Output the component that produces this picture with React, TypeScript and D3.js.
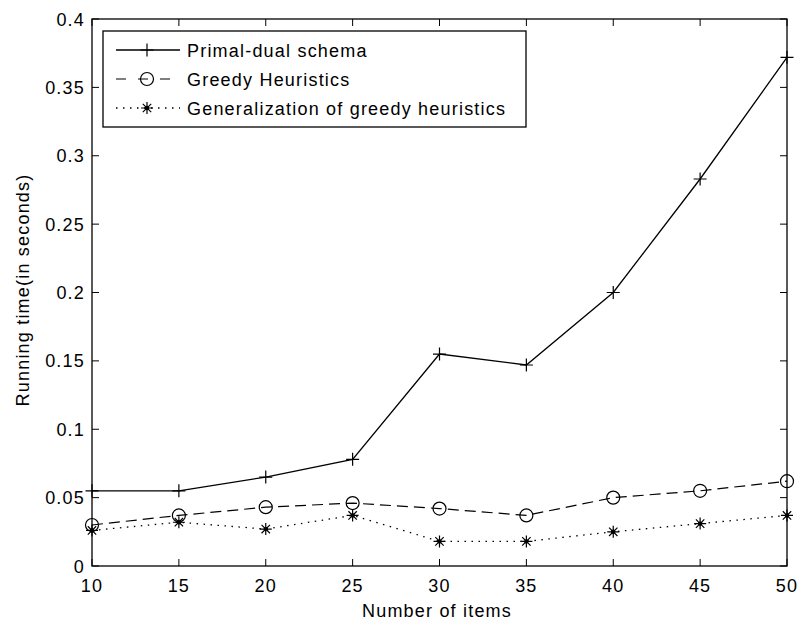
import React from "react";
import * as d3 from "d3";

// Number of items on the x axis
const items = [10, 15, 20, 25, 30, 35, 40, 45, 50];

// Running time in seconds for each method
const primalDual = [0.055, 0.055, 0.065, 0.078, 0.155, 0.147, 0.2, 0.283, 0.372];
const greedy = [0.03, 0.037, 0.043, 0.046, 0.042, 0.037, 0.05, 0.055, 0.062];
const generalization = [0.026, 0.032, 0.027, 0.037, 0.018, 0.018, 0.025, 0.031, 0.037];

const seriesNames = [
  "Primal-dual schema",
  "Greedy Heuristics",
  "Generalization of greedy heuristics",
];

const xTicks = [10, 15, 20, 25, 30, 35, 40, 45, 50];
const yTicks = [0, 0.05, 0.1, 0.15, 0.2, 0.25, 0.3, 0.35, 0.4];

const W = 799;
const H = 625;
const left = 92;
const right = 787;
const top = 19;
const bottom = 566;

const FONT = "'Liberation Sans', Arial, Helvetica, sans-serif";
const FS = 18;
const LS = 1.2;

type MarkerKind = "plus" | "circle" | "star";

function Marker({ kind, cx, cy }: { kind: MarkerKind; cx: number; cy: number }) {
  if (kind === "plus") {
    const s = 6.5;
    return (
      <path
        d={`M${cx - s},${cy}H${cx + s}M${cx},${cy - s}V${cy + s}`}
        stroke="#000"
        strokeWidth={1.2}
        fill="none"
      />
    );
  }
  if (kind === "circle") {
    return <circle cx={cx} cy={cy} r={6.5} fill="none" stroke="#000" strokeWidth={1.2} />;
  }
  const s = 6;
  const d = s * 0.7;
  return (
    <g>
      <path
        d={`M${cx - s},${cy}H${cx + s}M${cx},${cy - s}V${cy + s}M${cx - d},${cy - d}L${cx + d},${cy + d}M${cx - d},${cy + d}L${cx + d},${cy - d}`}
        stroke="#000"
        strokeWidth={1.2}
        fill="none"
      />
      <circle cx={cx} cy={cy} r={2.2} fill="#000" />
    </g>
  );
}

export default function App() {
  const x = d3.scaleLinear().domain([10, 50]).range([left, right]);
  const y = d3.scaleLinear().domain([0, 0.4]).range([bottom, top]);

  const line = d3
    .line<number>()
    .x((_, i) => x(items[i]))
    .y((v) => y(v));

  const series: { name: string; values: number[]; dash?: string; legendDash?: string; marker: MarkerKind; width: number }[] = [
    { name: seriesNames[0], values: primalDual, marker: "plus", width: 1.3 },
    { name: seriesNames[1], values: greedy, dash: "11,6", legendDash: "10,12", marker: "circle", width: 1.2 },
    { name: seriesNames[2], values: generalization, dash: "1.5,5.5", legendDash: "1.5,5.5", marker: "star", width: 1.3 },
  ];

  const tick = 7;

  // legend geometry
  const lgX = 103;
  const lgY = 31;
  const lgW = 423;
  const lgH = 96;
  const rows = [50, 79, 108];

  return (
    <svg
      width={W}
      height={H}
      style={{ display: "block", position: "absolute", left: 0, top: 0, background: "#fff" }}
      fontFamily={FONT}
    >
      <rect x={0} y={0} width={W} height={H} fill="#fff" />

      {/* axis ticks on all four sides */}
      {xTicks.map((t) => (
        <g key={"xt" + t}>
          <line x1={x(t)} x2={x(t)} y1={bottom} y2={bottom - tick} stroke="#000" strokeWidth={1} />
          <line x1={x(t)} x2={x(t)} y1={top} y2={top + tick} stroke="#000" strokeWidth={1} />
          <text x={x(t)} y={592} textAnchor="middle" fontSize={FS} letterSpacing={LS} fill="#000">
            {t}
          </text>
        </g>
      ))}
      {yTicks.map((t) => (
        <g key={"yt" + t}>
          <line x1={left} x2={left + tick} y1={y(t)} y2={y(t)} stroke="#000" strokeWidth={1} />
          <line x1={right} x2={right - tick} y1={y(t)} y2={y(t)} stroke="#000" strokeWidth={1} />
          <text x={85} y={y(t) + 6.5} textAnchor="end" fontSize={FS} letterSpacing={LS} fill="#000">
            {d3.format("~g")(t)}
          </text>
        </g>
      ))}

      {/* data lines */}
      {series.map((s) => (
        <g key={s.name}>
          <path
            d={line(s.values) || ""}
            fill="none"
            stroke="#000"
            strokeWidth={s.width}
            strokeDasharray={s.dash}
          />
          {s.values.map((v, i) => (
            <Marker key={i} kind={s.marker} cx={x(items[i])} cy={y(v)} />
          ))}
        </g>
      ))}

      {/* plot frame */}
      <rect
        x={left}
        y={top}
        width={right - left}
        height={bottom - top}
        fill="none"
        stroke="#000"
        strokeWidth={1.3}
      />

      {/* legend */}
      <rect x={lgX} y={lgY} width={lgW} height={lgH} fill="#fff" stroke="#000" strokeWidth={1.3} />
      {series.map((s, i) => (
        <g key={"lg" + s.name}>
          <line
            x1={116}
            x2={180}
            y1={rows[i]}
            y2={rows[i]}
            stroke="#000"
            strokeWidth={s.width}
            strokeDasharray={s.legendDash}
          />
          <Marker kind={s.marker} cx={147} cy={rows[i]} />
          <text x={187} y={rows[i] + 6.5} fontSize={FS} letterSpacing={LS} fill="#000">
            {s.name}
          </text>
        </g>
      ))}

      {/* axis titles */}
      <text x={437} y={617} textAnchor="middle" fontSize={FS} letterSpacing={LS} fill="#000">
        Number of items
      </text>
      <text
        transform={`translate(29,290) rotate(-90)`}
        textAnchor="middle"
        fontSize={FS}
        letterSpacing={LS}
        fill="#000"
      >
        Running time(in seconds)
      </text>
    </svg>
  );
}
